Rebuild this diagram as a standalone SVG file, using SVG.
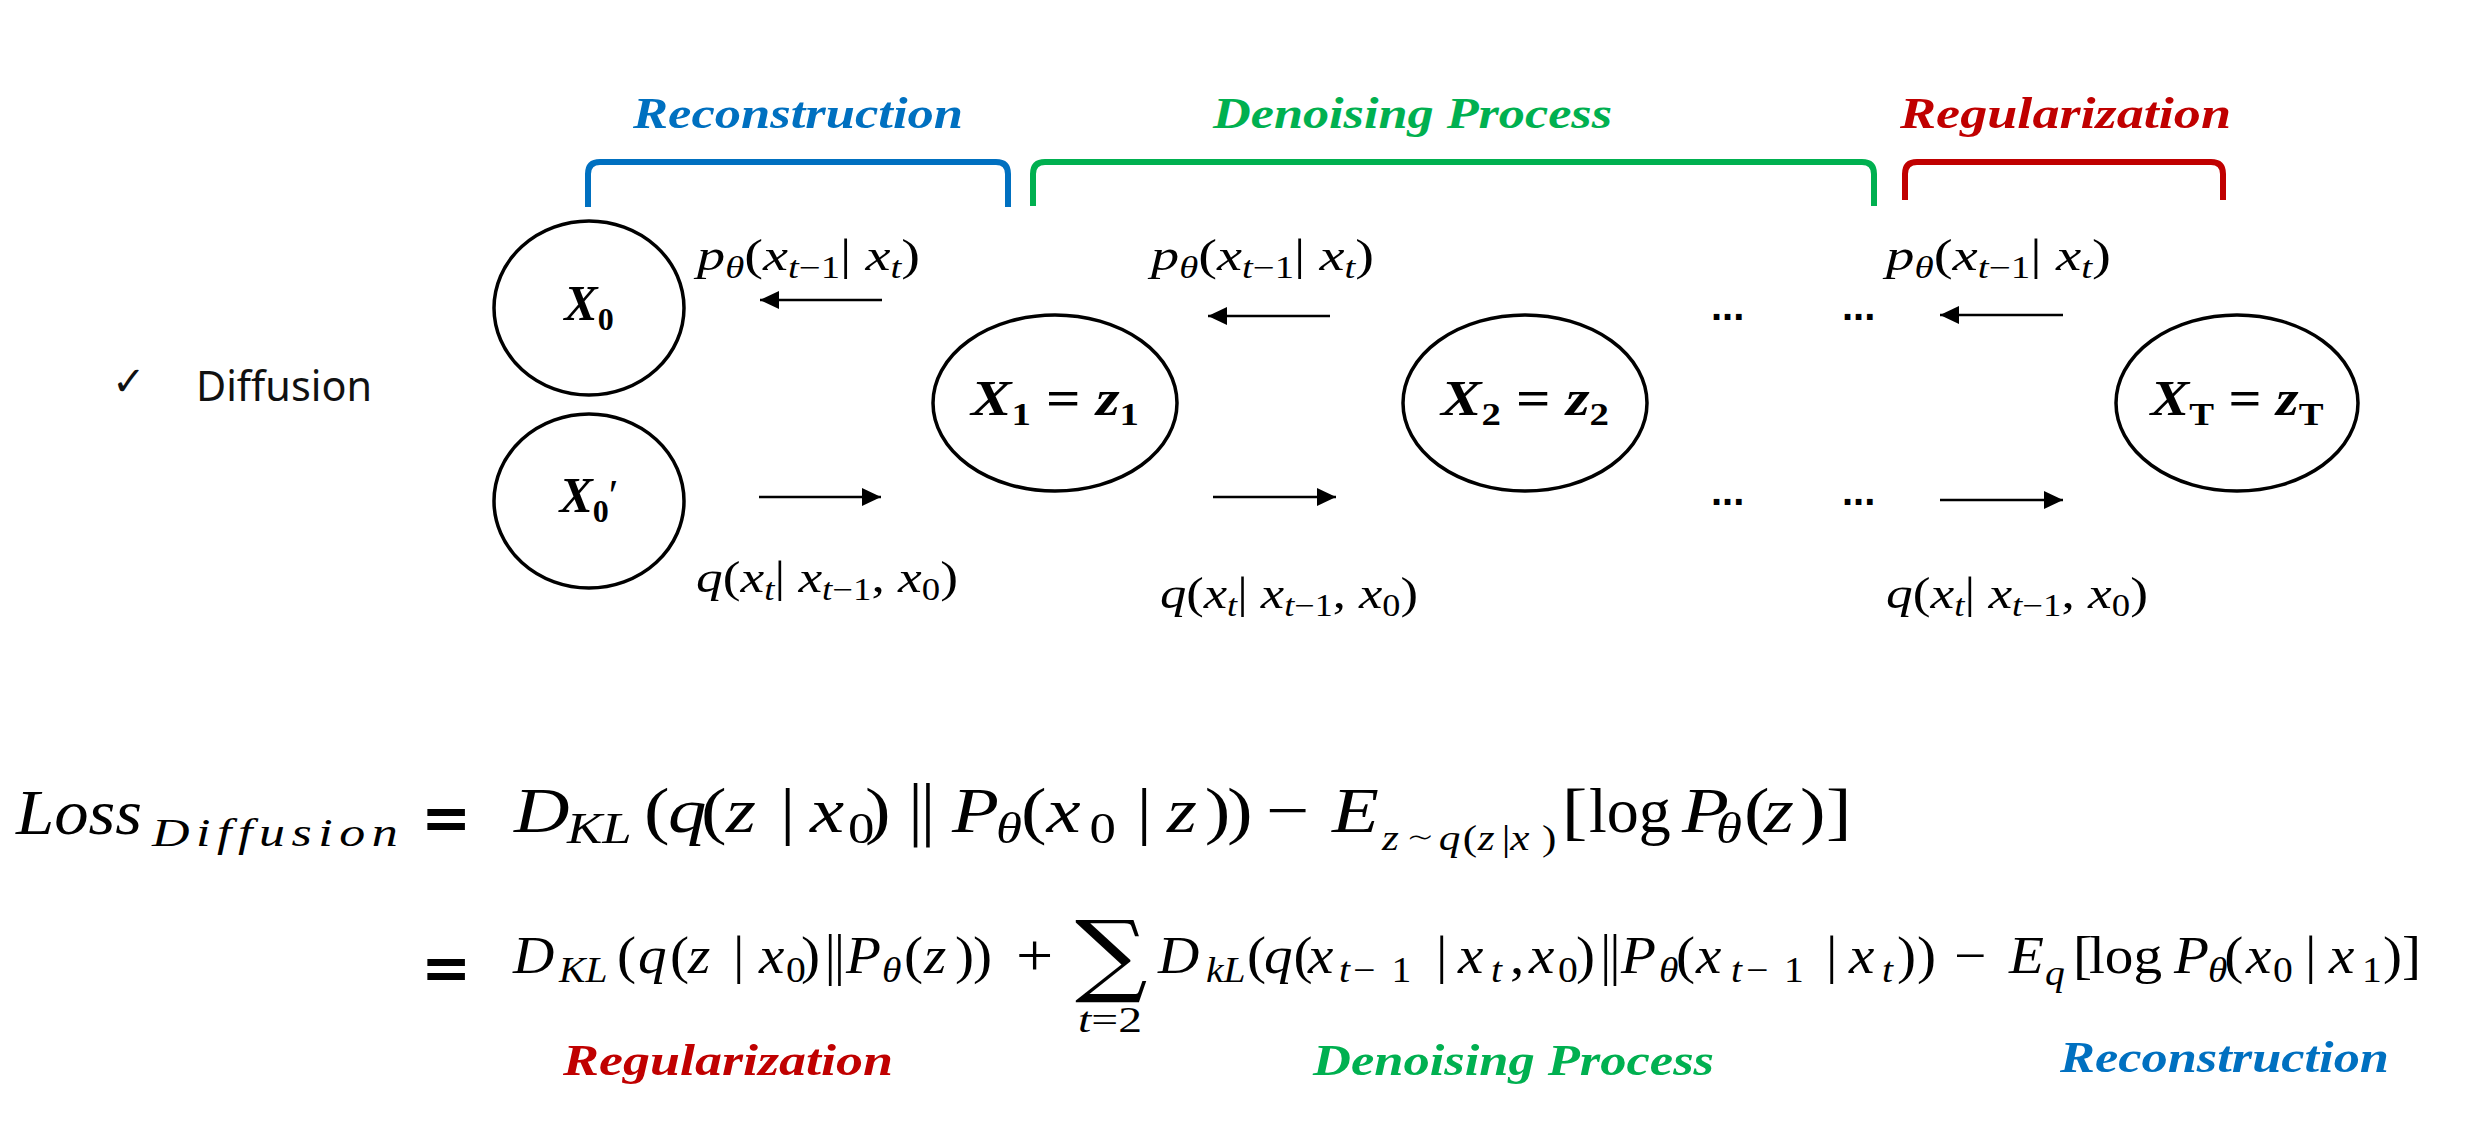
<svg xmlns="http://www.w3.org/2000/svg" width="2466" height="1126" viewBox="0 0 2466 1126">
<style>
.m{font-family:"Liberation Serif","DejaVu Serif",serif;fill:#000}
.i{font-style:italic}
.dv{font-family:"DejaVu Sans",sans-serif;font-style:normal;font-weight:200}
.node{fill:#fff;stroke:#000;stroke-width:3.5}
.nl{font-family:"Liberation Serif","DejaVu Serif",serif;font-weight:bold;font-size:50px;fill:#000}
.ns{font-size:32px;font-style:normal}
.lbl{font-family:"Liberation Serif","DejaVu Serif",serif;font-size:45px;fill:#000}
.s{font-size:31px}
.cap{font-family:"Liberation Serif","DejaVu Serif",serif;font-weight:bold;font-style:italic;font-size:44px}
.blue{fill:#0070C0}.green{fill:#00B050}.red{fill:#C00000}
.br{fill:none;stroke-width:6}
.arr{stroke:#000;stroke-width:2.5;fill:none}
.dots{font-family:"Liberation Sans",sans-serif;font-weight:bold;font-size:40px;fill:#000}
.f1{font-size:64px}.f1s{font-size:44px}.f1t{font-size:36px}
.f2{font-size:52px}.f2s{font-size:36px}
</style>
<defs>
<marker id="ah" markerUnits="userSpaceOnUse" markerWidth="20" markerHeight="18" refX="19" refY="9" orient="auto">
<path d="M0,0 L19,9 L0,18 Z" fill="#000"/>
</marker>
</defs>
<rect width="2466" height="1126" fill="#fff"/>

<g id="label-diffusion">
<text x="112" y="395" font-family="DejaVu Sans,sans-serif" font-size="40" fill="#111">✓</text>
<text x="196" y="401" font-family="Noto Sans,sans-serif" font-size="41" fill="#111" textLength="176" lengthAdjust="spacingAndGlyphs">Diffusion</text>
</g>

<g id="brackets">
<path class="br" stroke="#0070C0" d="M588,207 V174 Q588,162 600,162 H996 Q1008,162 1008,174 V207"/>
<path class="br" stroke="#00B050" d="M1033,206 V174 Q1033,162 1045,162 H1862 Q1874,162 1874,174 V206"/>
<path class="br" stroke="#C00000" d="M1905,200 V174 Q1905,162 1917,162 H2211 Q2223,162 2223,174 V200"/>
<text class="cap blue" x="633" y="128" textLength="330" lengthAdjust="spacingAndGlyphs">Reconstruction</text>
<text class="cap green" x="1213" y="128" textLength="399" lengthAdjust="spacingAndGlyphs">Denoising Process</text>
<text class="cap red" x="1900" y="128" textLength="331" lengthAdjust="spacingAndGlyphs">Regularization</text>
</g>

<g id="node-x0">
<ellipse class="node" cx="589" cy="308" rx="95" ry="87"/>
<text class="nl" x="589" y="320" text-anchor="middle"><tspan class="i">X</tspan><tspan class="ns" dy="10">0</tspan></text>
</g>
<g id="node-x0p">
<ellipse class="node" cx="589" cy="501" rx="95" ry="87"/>
<text class="nl" x="589" y="512" text-anchor="middle"><tspan class="i">X</tspan><tspan class="ns" dy="10">0</tspan><tspan dy="-12" font-size="44" font-weight="normal">′</tspan></text>
</g>
<g id="node-x1">
<ellipse class="node" cx="1055" cy="403" rx="122" ry="88"/>
<text class="nl" x="1055" y="415" text-anchor="middle" textLength="168" lengthAdjust="spacingAndGlyphs"><tspan class="i">X</tspan><tspan class="ns" dy="10">1</tspan><tspan dy="-10"> = </tspan><tspan class="i">z</tspan><tspan class="ns" dy="10">1</tspan></text>
</g>
<g id="node-x2">
<ellipse class="node" cx="1525" cy="403" rx="122" ry="88"/>
<text class="nl" x="1525" y="415" text-anchor="middle" textLength="168" lengthAdjust="spacingAndGlyphs"><tspan class="i">X</tspan><tspan class="ns" dy="10">2</tspan><tspan dy="-10"> = </tspan><tspan class="i">z</tspan><tspan class="ns" dy="10">2</tspan></text>
</g>
<g id="node-xT">
<ellipse class="node" cx="2237" cy="403" rx="121" ry="88"/>
<text class="nl" x="2237" y="415" text-anchor="middle" textLength="173" lengthAdjust="spacingAndGlyphs"><tspan class="i">X</tspan><tspan class="ns i" dy="10">T</tspan><tspan dy="-10"> = </tspan><tspan class="i">z</tspan><tspan class="ns i" dy="10">T</tspan></text>
</g>

<g id="connectors">
<line class="arr" x1="882" y1="300" x2="760" y2="300" marker-end="url(#ah)"/>
<line class="arr" x1="759" y1="497" x2="881" y2="497" marker-end="url(#ah)"/>
<line class="arr" x1="1330" y1="316" x2="1208" y2="316" marker-end="url(#ah)"/>
<line class="arr" x1="1213" y1="497" x2="1336" y2="497" marker-end="url(#ah)"/>
<line class="arr" x1="2063" y1="315" x2="1940" y2="315" marker-end="url(#ah)"/>
<line class="arr" x1="1940" y1="500" x2="2063" y2="500" marker-end="url(#ah)"/>
<text class="dots" x="1711" y="320">...</text>
<text class="dots" x="1842" y="320">...</text>
<text class="dots" x="1711" y="505">...</text>
<text class="dots" x="1842" y="505">...</text>
</g>

<g id="edge-labels">
<text class="lbl" x="697" y="270" textLength="223" lengthAdjust="spacingAndGlyphs"><tspan class="i">p</tspan><tspan class="i s" dy="8">θ</tspan><tspan dy="-8">(</tspan><tspan class="i">x</tspan><tspan class="i s" dy="8">t</tspan><tspan class="s">−1</tspan><tspan dy="-8">| </tspan><tspan class="i">x</tspan><tspan class="i s" dy="8">t</tspan><tspan dy="-8">)</tspan></text>
<text class="lbl" x="1151" y="270" textLength="223" lengthAdjust="spacingAndGlyphs"><tspan class="i">p</tspan><tspan class="i s" dy="8">θ</tspan><tspan dy="-8">(</tspan><tspan class="i">x</tspan><tspan class="i s" dy="8">t</tspan><tspan class="s">−1</tspan><tspan dy="-8">| </tspan><tspan class="i">x</tspan><tspan class="i s" dy="8">t</tspan><tspan dy="-8">)</tspan></text>
<text class="lbl" x="1886" y="270" textLength="225" lengthAdjust="spacingAndGlyphs"><tspan class="i">p</tspan><tspan class="i s" dy="8">θ</tspan><tspan dy="-8">(</tspan><tspan class="i">x</tspan><tspan class="i s" dy="8">t</tspan><tspan class="s">−1</tspan><tspan dy="-8">| </tspan><tspan class="i">x</tspan><tspan class="i s" dy="8">t</tspan><tspan dy="-8">)</tspan></text>
<text class="lbl" x="696" y="592" textLength="262" lengthAdjust="spacingAndGlyphs"><tspan class="i">q</tspan>(<tspan class="i">x</tspan><tspan class="i s" dy="8">t</tspan><tspan dy="-8">| </tspan><tspan class="i">x</tspan><tspan class="i s" dy="8">t</tspan><tspan class="s">−1</tspan><tspan dy="-8">, </tspan><tspan class="i">x</tspan><tspan class="s" dy="8">0</tspan><tspan dy="-8">)</tspan></text>
<text class="lbl" x="1160" y="608" textLength="258" lengthAdjust="spacingAndGlyphs"><tspan class="i">q</tspan>(<tspan class="i">x</tspan><tspan class="i s" dy="8">t</tspan><tspan dy="-8">| </tspan><tspan class="i">x</tspan><tspan class="i s" dy="8">t</tspan><tspan class="s">−1</tspan><tspan dy="-8">, </tspan><tspan class="i">x</tspan><tspan class="s" dy="8">0</tspan><tspan dy="-8">)</tspan></text>
<text class="lbl" x="1886" y="608" textLength="262" lengthAdjust="spacingAndGlyphs"><tspan class="i">q</tspan>(<tspan class="i">x</tspan><tspan class="i s" dy="8">t</tspan><tspan dy="-8">| </tspan><tspan class="i">x</tspan><tspan class="i s" dy="8">t</tspan><tspan class="s">−1</tspan><tspan dy="-8">, </tspan><tspan class="i">x</tspan><tspan class="s" dy="8">0</tspan><tspan dy="-8">)</tspan></text>
</g>

<g id="formula-line1">
<text class="m i" x="16" y="834" font-size="64" textLength="126" lengthAdjust="spacingAndGlyphs">Loss</text>
<text class="m i" transform="translate(152,846) scale(1.3,1)" x="0" y="0" font-size="40" textLength="189" lengthAdjust="spacing">Diffusion</text>
<text x="421" y="839" font-family="DejaVu Sans,sans-serif" font-weight="bold" font-size="60">=</text>
<text class="m f1" transform="scale(1.2,1)"><tspan x="428.3" y="832" class="i">D</tspan><tspan x="472.5" y="843" class="i f1s">KL</tspan><tspan x="536.7" y="832">(</tspan><tspan x="556.7" y="832" class="i">q</tspan><tspan x="584.2" y="832">(</tspan><tspan x="605" y="832" class="i">z</tspan><tspan x="650" y="832">|</tspan><tspan x="675" y="832" class="i">x</tspan><tspan x="706.7" y="843" class="f1s">0</tspan><tspan x="720.8" y="832">)</tspan><tspan x="752" y="832" class="dv">‖</tspan><tspan x="793.3" y="832" class="i">P</tspan><tspan x="830" y="843" class="i f1s">θ</tspan><tspan x="850.8" y="832">(</tspan><tspan x="872" y="832" class="i">x</tspan><tspan x="908" y="843" class="f1s">0</tspan><tspan x="947" y="832">|</tspan><tspan x="972.5" y="832" class="i">z</tspan><tspan x="1004" y="832">)</tspan><tspan x="1022.5" y="832">)</tspan><tspan x="1055" y="832">−</tspan><tspan x="1110" y="832" class="i">E</tspan><tspan x="1151.7" y="850" class="i f1t">z</tspan><tspan x="1172" y="850" class="dv f1t">∼</tspan><tspan x="1199" y="850" class="i f1t">q</tspan><tspan x="1219" y="850" class="f1t">(</tspan><tspan x="1231.5" y="850" class="i f1t">z</tspan><tspan x="1251.5" y="850" class="f1t">|</tspan><tspan x="1258.5" y="850" class="i f1t">x</tspan><tspan x="1285" y="850" class="f1t">)</tspan><tspan x="1301.5" y="832">[</tspan><tspan x="1401.7" y="832" class="i">P</tspan><tspan x="1430" y="843" class="i f1s">θ</tspan><tspan x="1453.3" y="832">(</tspan><tspan x="1470" y="832" class="i">z</tspan><tspan x="1500" y="832">)</tspan><tspan x="1521.7" y="832">]</tspan></text>
<text class="m f1" x="1589" y="832">log</text>
</g>

<g id="formula-line2">
<text x="421" y="989" font-family="DejaVu Sans,sans-serif" font-weight="bold" font-size="60">=</text>
<text class="m f2" transform="scale(1.1,1)"><tspan x="466.4" y="973" class="i">D</tspan><tspan x="508.2" y="982" class="i f2s">KL</tspan><tspan x="560.9" y="973">(</tspan><tspan x="580" y="973" class="i">q</tspan><tspan x="609.1" y="973">(</tspan><tspan x="625.5" y="973" class="i">z</tspan><tspan x="666.4" y="973">|</tspan><tspan x="690" y="973" class="i">x</tspan><tspan x="714.5" y="982" class="f2s">0</tspan><tspan x="728.2" y="973">)</tspan><tspan x="746" y="973" class="dv">‖</tspan><tspan x="769.1" y="973" class="i">P</tspan><tspan x="801.8" y="982" class="i f2s">θ</tspan><tspan x="821.8" y="973">(</tspan><tspan x="840" y="973" class="i">z</tspan><tspan x="868.2" y="973">)</tspan><tspan x="884.5" y="973">)</tspan><tspan x="923.6" y="975" font-size="60">+</tspan><tspan x="1052.7" y="973" class="i">D</tspan><tspan x="1096.4" y="982" class="i f2s">kL</tspan><tspan x="1133.6" y="973">(</tspan><tspan x="1149.1" y="973" class="i">q</tspan><tspan x="1176" y="973">(</tspan><tspan x="1189" y="973" class="i">x</tspan><tspan x="1217.3" y="982" class="i f2s">t</tspan><tspan x="1230" y="982" class="f2s">−</tspan><tspan x="1265" y="982" class="f2s">1</tspan><tspan x="1305.5" y="973">|</tspan><tspan x="1325.5" y="973" class="i">x</tspan><tspan x="1355.5" y="982" class="i f2s">t</tspan><tspan x="1372.7" y="973">,</tspan><tspan x="1390" y="973" class="i">x</tspan><tspan x="1416.4" y="982" class="f2s">0</tspan><tspan x="1432.7" y="973">)</tspan><tspan x="1451" y="973" class="dv">‖</tspan><tspan x="1473.6" y="973" class="i">P</tspan><tspan x="1508.2" y="982" class="i f2s">θ</tspan><tspan x="1523.6" y="973">(</tspan><tspan x="1541.8" y="973" class="i">x</tspan><tspan x="1573.6" y="982" class="i f2s">t</tspan><tspan x="1587.3" y="982" class="f2s">−</tspan><tspan x="1621.8" y="982" class="f2s">1</tspan><tspan x="1660" y="973">|</tspan><tspan x="1680.9" y="973" class="i">x</tspan><tspan x="1710.9" y="982" class="i f2s">t</tspan><tspan x="1724.5" y="973">)</tspan><tspan x="1742.7" y="973">)</tspan><tspan x="1776.4" y="973">−</tspan><tspan x="1826.4" y="973" class="i">E</tspan><tspan x="1859.1" y="985" class="i f2s">q</tspan><tspan x="1884.5" y="973">[</tspan><tspan x="1899" y="973">log</tspan><tspan x="1976.4" y="973" class="i">P</tspan><tspan x="2007.3" y="982" class="i f2s">θ</tspan><tspan x="2022" y="973">(</tspan><tspan x="2041.8" y="973" class="i">x</tspan><tspan x="2066.4" y="982" class="f2s">0</tspan><tspan x="2095.5" y="973">|</tspan><tspan x="2117.3" y="973" class="i">x</tspan><tspan x="2147.3" y="982" class="f2s">1</tspan><tspan x="2166.4" y="973">)</tspan><tspan x="2183.6" y="973">]</tspan></text>
<text transform="translate(1075,985) scale(1.13,1)" x="0" y="0" font-family="DejaVu Serif,serif" font-size="90">∑</text>
<text class="m" x="1110" y="1032" font-size="36" text-anchor="middle" textLength="64" lengthAdjust="spacingAndGlyphs"><tspan class="i">t</tspan>=2</text>
<text class="cap red" x="563" y="1075" textLength="330" lengthAdjust="spacingAndGlyphs">Regularization</text>
<text class="cap green" x="1313" y="1075" textLength="401" lengthAdjust="spacingAndGlyphs">Denoising Process</text>
<text class="cap blue" x="2060" y="1072" textLength="329" lengthAdjust="spacingAndGlyphs">Reconstruction</text>
</g>
</svg>
